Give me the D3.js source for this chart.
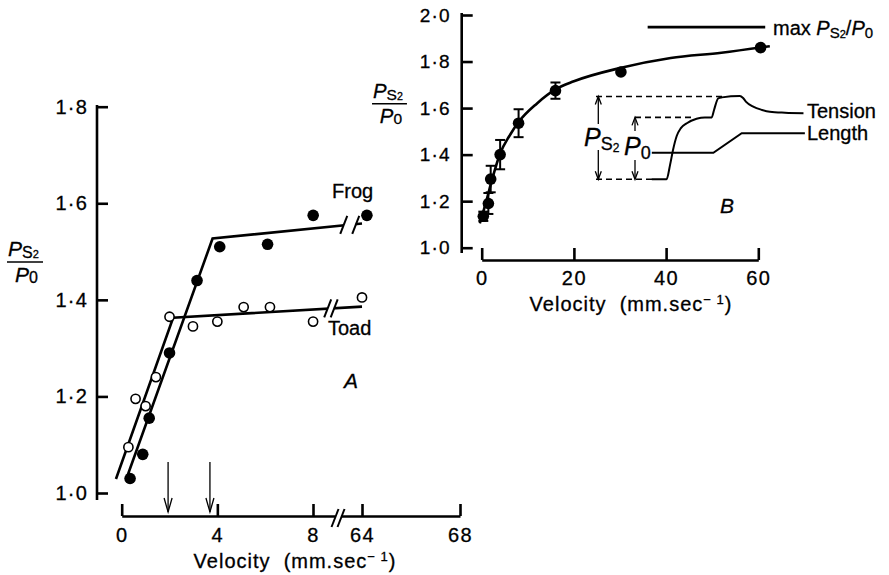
<!DOCTYPE html>
<html><head><meta charset="utf-8">
<script src="https://cdn.jsdelivr.net/npm/d3@7"></script>
<style>
html,body{margin:0;padding:0;background:#fff;}
svg{display:block;}
text{font-family:"Liberation Sans",Arial,Helvetica,sans-serif;fill:#000;stroke:#000;stroke-width:0.3px;}
</style></head><body>
<svg id="chart" width="889" height="575"></svg>
<script>
// ---------- Panel A: frog and toad ----------
const frogVel   = [0.35, 0.88, 1.15, 2.0, 3.15, 4.1, 6.1, 8.2, 64.2];
const frogRatio = [1.03, 1.08, 1.155, 1.29, 1.44, 1.51, 1.515, 1.575, 1.575];
const toadVel   = [0.28, 0.58, 1.0, 1.43, 2.0, 2.98, 4.0, 5.1, 6.2, 8.1, 64.0];
const toadRatio = [1.095, 1.195, 1.18, 1.24, 1.365, 1.345, 1.355, 1.385, 1.385, 1.355, 1.405];
// two-segment fits (start, knee, end)
const frogFitVel   = [0.2, 3.8, 64];
const frogFitRatio = [1.03, 1.527, 1.558];
const toadFitVel   = [-0.24, 2.15, 64];
const toadFitRatio = [1.029, 1.363, 1.386];
const kneeArrowVel = [1.94, 3.69];
const ticksAx = [0, 4, 8, 64, 68];
const ticksAy = [1.0, 1.2, 1.4, 1.6, 1.8];

// ---------- Panel B: mean values with s.e. ----------
const bVel   = [0.35, 1.45, 1.95, 4.0, 8.0, 16.0, 30.2, 60.5];
const bRatio = [1.135, 1.19, 1.295, 1.40, 1.535, 1.675, 1.755, 1.86];
const bErr   = [0.02, 0.045, 0.057, 0.063, 0.06, 0.035, 0, 0];
const curveVel   = [-0.4, 1, 2, 4, 6, 8, 12, 16, 20, 30, 41, 52, 62.5];
const curveRatio = [1.105, 1.2, 1.275, 1.405, 1.48, 1.54, 1.62, 1.68, 1.715, 1.772, 1.815, 1.838, 1.866];
const maxVel = [36, 61.5];
const maxRatio = 1.948;
const ticksBx = [0, 20, 40, 60];
const ticksBy = [1.0, 1.2, 1.4, 1.6, 1.8, 2.0];

// inset: schematic tension and length records
const tensionVel   = [36.9, 40.1, 40.85, 41.5, 42.3, 43.2, 44.5, 46.6, 48.4, 49.9, 50.4, 51.3, 52.1, 56.0, 56.7, 57.3, 58.9, 60.8, 62.5, 65.8, 69.8];
const tensionRatio = [1.294, 1.294, 1.355, 1.42, 1.48, 1.514, 1.535, 1.554, 1.56, 1.56, 1.592, 1.642, 1.646, 1.652, 1.643, 1.628, 1.606, 1.592, 1.584, 1.58, 1.578];
const lengthVel   = [36.9, 50.25, 56.4, 70.1];
const lengthRatio = [1.408, 1.408, 1.492, 1.492];

const fmt = d => d.toFixed(1).replace('.', '\u00B7');

const svg = d3.select('#chart');
svg.append('rect').attr('width', 889).attr('height', 575).attr('fill', '#fff');

// ===== scales =====
const xA = d3.scaleLinear().domain([0, 8, 64, 68]).range([121.7, 313, 362, 460]);
const yA = d3.scaleLinear().domain([1.0, 1.8]).range([493, 106.7]);
const xB = d3.scaleLinear().domain([0, 60]).range([481.7, 758.3]);
const yB = d3.scaleLinear().domain([1.0, 2.0]).range([247.7, 15]);

const LW = 2.6;

// ===== Panel A axes =====
const gAy = svg.append('g').attr('transform', 'translate(97,0)')
  .call(d3.axisLeft(yA).tickValues(ticksAy).tickFormat(fmt).tickSizeInner(-11).tickSizeOuter(0).tickPadding(9));
gAy.select('.domain').remove();
gAy.append('line').attr('y1', 105).attr('y2', 500).attr('stroke', '#000').attr('stroke-width', LW);
gAy.selectAll('.tick line').attr('stroke', '#000').attr('stroke-width', LW);
gAy.selectAll('.tick text').attr('font-size', 20).attr('fill', '#000').attr('font-family', null).attr('letter-spacing', 1.2);

const gAx = svg.append('g').attr('transform', 'translate(0,516)')
  .call(d3.axisBottom(xA).tickValues(ticksAx).tickFormat(d3.format('d')).tickSizeInner(-12).tickSizeOuter(0).tickPadding(12));
gAx.select('.domain').attr('stroke', '#000').attr('stroke-width', LW);
gAx.selectAll('.tick line').attr('stroke', '#000').attr('stroke-width', LW);
gAx.selectAll('.tick text').attr('font-size', 20).attr('fill', '#000').attr('font-family', null).attr('letter-spacing', 1.5);

// break marks
function breakMark(g, cx, cy, gap) {
  g.append('line').attr('x1', cx - gap / 2).attr('x2', cx + gap / 2).attr('y1', cy).attr('y2', cy)
    .attr('stroke', '#fff').attr('stroke-width', 7);
  [-gap / 2, gap / 2].forEach(o => {
    g.append('line').attr('x1', cx + o - 3.5).attr('y1', cy + 9).attr('x2', cx + o + 3.5).attr('y2', cy - 9)
      .attr('stroke', '#000').attr('stroke-width', 2);
  });
}
breakMark(svg, xA(36.6), 518, 6);

// fit lines
const lineA = d3.line().x(d => xA(d[0])).y(d => yA(d[1]));
svg.append('path').datum(d3.zip(frogFitVel, frogFitRatio)).attr('d', lineA)
  .attr('fill', 'none').attr('stroke', '#000').attr('stroke-width', LW);
svg.append('path').datum(d3.zip(toadFitVel, toadFitRatio)).attr('d', lineA)
  .attr('fill', 'none').attr('stroke', '#000').attr('stroke-width', LW);

// breaks on the fit lines
function fitY(vel, ratio, px) {
  const xs = vel.map(xA), ys = ratio.map(yA);
  const i = xs.length - 2;
  return ys[i] + (ys[i + 1] - ys[i]) * (px - xs[i]) / (xs[i + 1] - xs[i]);
}
const frogBx = xA(50), toadBx = xA(28.5);
breakMark(svg, frogBx, fitY(frogFitVel, frogFitRatio, frogBx), 12);
breakMark(svg, toadBx, fitY(toadFitVel, toadFitRatio, toadBx), 6.5);

// points
svg.append('g').selectAll('circle').data(d3.zip(toadVel, toadRatio)).join('circle')
  .attr('cx', d => xA(d[0])).attr('cy', d => yA(d[1])).attr('r', 4.6)
  .attr('fill', '#fff').attr('stroke', '#000').attr('stroke-width', 1.6);
svg.append('g').selectAll('circle').data(d3.zip(frogVel, frogRatio)).join('circle')
  .attr('cx', d => xA(d[0])).attr('cy', d => yA(d[1])).attr('r', 5.8).attr('fill', '#000');

// knee arrows
kneeArrowVel.forEach(v => {
  const x = xA(v);
  svg.append('line').attr('x1', x).attr('x2', x).attr('y1', 462).attr('y2', 512)
    .attr('stroke', '#000').attr('stroke-width', 1.3);
  svg.append('path').attr('d', `M${x - 4},${498} L${x},${512} L${x + 4},${498}`)
    .attr('fill', 'none').attr('stroke', '#000').attr('stroke-width', 1.3);
});

svg.append('text').attr('x', 332).attr('y', 198).attr('font-size', 20).text('Frog');
svg.append('text').attr('x', 328).attr('y', 335).attr('font-size', 20).text('Toad');
svg.append('text').attr('x', 344).attr('y', 388).attr('font-size', 21).attr('font-style', 'italic').text('A');

// axis title
function velTitle(x, y) {
  const t = svg.append('text').attr('x', x).attr('y', y).attr('font-size', 20).attr('letter-spacing', 1)
    .attr('text-anchor', 'middle');
  t.append('tspan').text('Velocity\u00A0 (mm.sec');
  t.append('tspan').attr('font-size', 13).attr('dy', -7).text('\u2212\u00A01');
  t.append('tspan').attr('dy', 7).text(')');
}
velTitle(295, 568);

// ratio label
function ratioLabel(x, y, s) {
  const g = svg.append('g').attr('transform', `translate(${x},${y}) scale(${s})`);
  const top = g.append('text').attr('x', 0).attr('y', 0).attr('font-size', 21);
  top.append('tspan').attr('font-style', 'italic').text('P');
  top.append('tspan').attr('font-size', 16).attr('dy', 2).text('S');
  top.append('tspan').attr('font-size', 11).attr('dy', 0).text('2');
  g.append('line').attr('x1', -1).attr('x2', 35).attr('y1', 6).attr('y2', 6).attr('stroke', '#000').attr('stroke-width', 1.6);
  const bot = g.append('text').attr('x', 7).attr('y', 26).attr('font-size', 21);
  bot.append('tspan').attr('font-style', 'italic').text('P');
  bot.append('tspan').attr('font-size', 16).attr('dy', 1).text('0');
}
ratioLabel(8, 256, 1);
ratioLabel(373, 98, 0.97);

// ===== Panel B axes =====
const gBy = svg.append('g').attr('transform', 'translate(461.7,0)')
  .call(d3.axisLeft(yB).tickValues(ticksBy).tickFormat(fmt).tickSizeInner(-11).tickSizeOuter(0).tickPadding(11));
gBy.select('.domain').remove();
gBy.append('line').attr('y1', 13).attr('y2', 253).attr('stroke', '#000').attr('stroke-width', LW);
gBy.selectAll('.tick line').attr('stroke', '#000').attr('stroke-width', LW);
gBy.selectAll('.tick text').attr('font-size', 19).attr('fill', '#000').attr('font-family', null).attr('letter-spacing', 1.2);

const gBx = svg.append('g').attr('transform', 'translate(0,260)')
  .call(d3.axisBottom(xB).tickValues(ticksBx).tickFormat(d3.format('d')).tickSizeInner(-12).tickSizeOuter(0).tickPadding(11));
gBx.select('.domain').attr('stroke', '#000').attr('stroke-width', LW);
gBx.selectAll('.tick line').attr('stroke', '#000').attr('stroke-width', LW);
gBx.selectAll('.tick text').attr('font-size', 20).attr('fill', '#000').attr('font-family', null).attr('letter-spacing', 1.5);

velTitle(631, 311);

// fitted curve
const lineB = d3.line().x(d => xB(d[0])).y(d => yB(d[1])).curve(d3.curveMonotoneX);
svg.append('path').datum(d3.zip(curveVel, curveRatio)).attr('d', lineB)
  .attr('fill', 'none').attr('stroke', '#000').attr('stroke-width', LW);

// error bars
const eb = svg.append('g');
d3.zip(bVel, bRatio, bErr).filter(d => d[2] > 0).forEach(d => {
  const x = xB(d[0]);
  eb.append('line').attr('x1', x).attr('x2', x).attr('y1', yB(d[1] - d[2])).attr('y2', yB(d[1] + d[2]))
    .attr('stroke', '#000').attr('stroke-width', 2);
  [d[1] - d[2], d[1] + d[2]].forEach(v => {
    eb.append('line').attr('x1', x - 5).attr('x2', x + 5).attr('y1', yB(v)).attr('y2', yB(v))
      .attr('stroke', '#000').attr('stroke-width', 2);
  });
});
svg.append('g').selectAll('circle').data(d3.zip(bVel, bRatio)).join('circle')
  .attr('cx', d => xB(d[0])).attr('cy', d => yB(d[1])).attr('r', 5.8).attr('fill', '#000');

// max line
svg.append('line').attr('x1', xB(maxVel[0])).attr('x2', xB(maxVel[1]))
  .attr('y1', yB(maxRatio)).attr('y2', yB(maxRatio)).attr('stroke', '#000').attr('stroke-width', LW);
const mt = svg.append('text').attr('x', 773).attr('y', 35).attr('font-size', 20);
mt.append('tspan').text('max ');
mt.append('tspan').attr('font-style', 'italic').text('P');
mt.append('tspan').attr('font-size', 15).attr('dy', 3).text('S');
mt.append('tspan').attr('font-size', 11).attr('dy', 0).text('2');
mt.append('tspan').attr('dy', -3).text('/');
mt.append('tspan').attr('font-style', 'italic').text('P');
mt.append('tspan').attr('font-size', 15).attr('dy', 3).text('0');

svg.append('text').attr('x', 720).attr('y', 213).attr('font-size', 21).attr('font-style', 'italic').text('B');

// ===== inset =====
const ins = svg.append('g');
const dash = (x1, x2, r) => ins.append('line').attr('x1', x1).attr('x2', x2).attr('y1', yB(r)).attr('y2', yB(r))
  .attr('stroke', '#000').attr('stroke-width', 1.6).attr('stroke-dasharray', '6,4');
dash(596, 722, 1.65);
dash(635, 695, 1.56);
dash(596, 652, 1.294);

const lineI = d3.line().x(d => xB(d[0])).y(d => yB(d[1]));
ins.append('path').datum(d3.zip(tensionVel, tensionRatio)).attr('d', lineI.curve(d3.curveMonotoneX))
  .attr('fill', 'none').attr('stroke', '#000').attr('stroke-width', 2);
ins.append('path').datum(d3.zip(lengthVel, lengthRatio)).attr('d', d3.line().x(d => xB(d[0])).y(d => yB(d[1])))
  .attr('fill', 'none').attr('stroke', '#000').attr('stroke-width', 2);
ins.append('text').attr('x', 807).attr('y', 118).attr('font-size', 20).text('Tension');
ins.append('text').attr('x', 807).attr('y', 140).attr('font-size', 20).text('Length');

function dblArrow(x, yTop, yTopEnd, yBotStart, yBot) {
  ins.append('line').attr('x1', x).attr('x2', x).attr('y1', yTop).attr('y2', yTopEnd).attr('stroke', '#000').attr('stroke-width', 1.3);
  ins.append('line').attr('x1', x).attr('x2', x).attr('y1', yBotStart).attr('y2', yBot).attr('stroke', '#000').attr('stroke-width', 1.3);
  ins.append('path').attr('d', `M${x - 3},${yTop + 8} L${x},${yTop} L${x + 3},${yTop + 8}`).attr('fill', 'none').attr('stroke', '#000').attr('stroke-width', 1.3);
  ins.append('path').attr('d', `M${x - 3},${yBot - 8} L${x},${yBot} L${x + 3},${yBot - 8}`).attr('fill', 'none').attr('stroke', '#000').attr('stroke-width', 1.3);
}
dblArrow(598.3, yB(1.65), 124, 150, yB(1.294));
dblArrow(635, yB(1.56), 131, 160, yB(1.294));

const ps = ins.append('text').attr('x', 584).attr('y', 146).attr('font-size', 25);
ps.append('tspan').attr('font-style', 'italic').text('P');
ps.append('tspan').attr('font-size', 18).attr('dy', 4).text('S');
ps.append('tspan').attr('font-size', 12).attr('dy', 2).text('2');
const p0 = ins.append('text').attr('x', 624).attr('y', 155).attr('font-size', 25);
p0.append('tspan').attr('font-style', 'italic').text('P');
p0.append('tspan').attr('font-size', 18).attr('dy', 4).text('0');
</script>
</body></html>
